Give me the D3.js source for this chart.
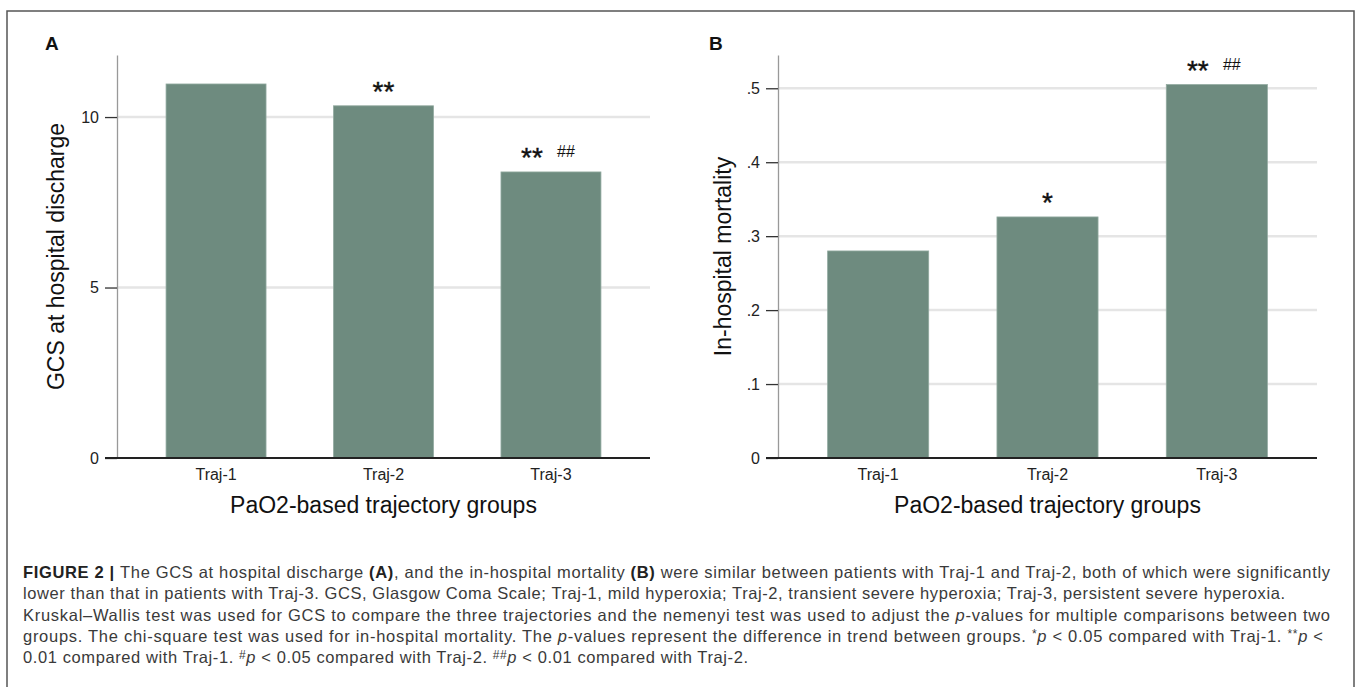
<!DOCTYPE html>
<html>
<head>
<meta charset="utf-8">
<script src="https://cdn.jsdelivr.net/npm/d3@7"></script>
<style>
  body { margin: 0; background: #fff; }
  text { font-family: "Liberation Sans", Arial, Helvetica, sans-serif; }
</style>
</head>
<body>
<div id="chart"></div>
<script>
// data
var groups = ["Traj-1", "Traj-2", "Traj-3"];
var gcsValues = [10.97, 10.33, 8.39];
var mortalityValues = [0.28, 0.326, 0.505];
var gcsTicks = [0, 5, 10];
var mortalityTicks = [0, 0.1, 0.2, 0.3, 0.4, 0.5];
var gcsStars = ["", "**", "**"];
var gcsHashes = ["", "", "##"];
var mortalityStars = ["", "*", "**"];
var mortalityHashes = ["", "", "##"];

var w = 1358;
var h = 687;
var barColor = "#6e8b7f";

var svg = d3.select("#chart")
            .append("svg")
            .attr("width", w)
            .attr("height", h);

// outer frame (open at the bottom)
svg.append("path")
    .attr("d", "M7," + h + "V11H1354V" + h)
    .attr("fill", "none")
    .attr("stroke", "#555")
    .attr("stroke-width", 1.5);

function drawPanel(p) {
    var g = svg.append("g");

    var xScale = d3.scaleBand()
                    .domain(groups)
                    .range([p.left, p.right])
                    .paddingInner(0.403)
                    .paddingOuter(0.293);

    var yScale = d3.scaleLinear()
                    .domain([0, p.yMax])
                    .range([458, 55]);

    // gridlines
    g.selectAll("line.grid")
        .data(p.ticks.filter(function(d) { return d > 0; }))
        .enter()
        .append("line")
        .attr("class", "grid")
        .attr("x1", p.left)
        .attr("x2", p.right)
        .attr("y1", function(d) { return yScale(d); })
        .attr("y2", function(d) { return yScale(d); })
        .attr("stroke", "#e5e5e5")
        .attr("stroke-width", 2.5);

    // bars
    g.selectAll("rect")
        .data(p.values)
        .enter()
        .append("rect")
        .attr("x", function(d, i) { return xScale(groups[i]); })
        .attr("y", function(d) { return yScale(d); })
        .attr("width", xScale.bandwidth())
        .attr("height", function(d) { return yScale(0) - yScale(d); })
        .attr("fill", barColor)
        .attr("stroke", "#92aaa0")
        .attr("stroke-width", 0.8);

    // y axis
    var yAxis = g.append("g")
        .attr("transform", "translate(" + p.left + ",0)")
        .call(d3.axisLeft(yScale)
                .tickValues(p.ticks)
                .tickSize(12)
                .tickSizeOuter(0)
                .tickPadding(6)
                .tickFormat(p.format));
    yAxis.select(".domain").attr("stroke", "#999").attr("stroke-width", 1.3);
    yAxis.selectAll(".tick line").attr("stroke", "#333").attr("stroke-width", 1.3);
    yAxis.selectAll(".tick text")
        .attr("font-size", "16px")
        .attr("font-family", "'Liberation Sans', Arial, sans-serif")
        .attr("fill", "#222");

    // baseline
    g.append("line")
        .attr("x1", p.left - 12)
        .attr("x2", p.right)
        .attr("y1", yScale(0))
        .attr("y2", yScale(0))
        .attr("stroke", "#222")
        .attr("stroke-width", 2);

    // x axis labels
    var xAxis = g.append("g")
        .attr("transform", "translate(0," + yScale(0) + ")")
        .call(d3.axisBottom(xScale).tickSize(0).tickPadding(11));
    xAxis.select(".domain").remove();
    xAxis.selectAll(".tick text")
        .attr("font-size", "16px")
        .attr("font-family", "'Liberation Sans', Arial, sans-serif")
        .attr("fill", "#222");

    // significance marks
    g.selectAll("text.star")
        .data(p.stars)
        .enter()
        .append("text")
        .attr("class", "star")
        .text(function(d) { return d; })
        .attr("x", function(d, i) {
            var c = xScale(groups[i]) + xScale.bandwidth() / 2;
            return p.hashes[i] ? c - 19 : c;
        })
        .attr("y", function(d, i) { return yScale(p.values[i]) - 5; })
        .attr("text-anchor", "middle")
        .attr("font-size", "28px")
        .attr("stroke", "#111")
        .attr("stroke-width", 0.4)
        .attr("fill", "#111");

    g.selectAll("text.hash")
        .data(p.hashes)
        .enter()
        .append("text")
        .attr("class", "hash")
        .text(function(d) { return d; })
        .attr("x", function(d, i) { return xScale(groups[i]) + xScale.bandwidth() / 2 + 15; })
        .attr("y", function(d, i) { return yScale(p.values[i]) - 15; })
        .attr("text-anchor", "middle")
        .attr("font-size", "16px")
        .attr("fill", "#111");

    // panel letter
    g.append("text")
        .text(p.letter)
        .attr("x", p.letterX)
        .attr("y", 50)
        .attr("font-size", "19px")
        .attr("font-weight", "bold")
        .attr("fill", "#111");

    // axis titles
    g.append("text")
        .text(p.yTitle)
        .attr("transform", "translate(" + p.yTitleX + "," + ((yScale(0) + yScale(p.yMax)) / 2) + ") rotate(-90)")
        .attr("text-anchor", "middle")
        .attr("font-size", "23px")
        .attr("fill", "#111");

    g.append("text")
        .text("PaO2-based trajectory groups")
        .attr("x", xScale(groups[1]) + xScale.bandwidth() / 2)
        .attr("y", 513)
        .attr("text-anchor", "middle")
        .attr("font-size", "23px")
        .attr("fill", "#111");
}

drawPanel({
    left: 117, right: 650, yMax: 11.82,
    values: gcsValues, ticks: gcsTicks,
    stars: gcsStars, hashes: gcsHashes,
    format: d3.format("d"),
    letter: "A", letterX: 45,
    yTitle: "GCS at hospital discharge", yTitleX: 64
});

drawPanel({
    left: 778, right: 1317, yMax: 0.545,
    values: mortalityValues, ticks: mortalityTicks,
    stars: mortalityStars, hashes: mortalityHashes,
    format: function(d) { return d === 0 ? "0" : d3.format(".1f")(d).replace(/^0/, ""); },
    letter: "B", letterX: 709,
    yTitle: "In-hospital mortality", yTitleX: 731
});

// caption
var captionLines = [
    [["FIGURE 2 | ", "b"], ["The GCS at hospital discharge ", ""], ["(A)", "b"], [", and the in-hospital mortality ", ""], ["(B)", "b"], [" were similar between patients with Traj-1 and Traj-2, both of which were significantly", ""]],
    [["lower than that in patients with Traj-3. GCS, Glasgow Coma Scale; Traj-1, mild hyperoxia; Traj-2, transient severe hyperoxia; Traj-3, persistent severe hyperoxia.", ""]],
    [["Kruskal\u2013Wallis test was used for GCS to compare the three trajectories and the nemenyi test was used to adjust the ", ""], ["p", "i"], ["-values for multiple comparisons between two", ""]],
    [["groups. The chi-square test was used for in-hospital mortality. The ", ""], ["p", "i"], ["-values represent the difference in trend between groups. ", ""], ["*", "sup"], ["p", "i"], [" < 0.05 compared with Traj-1. ", ""], ["**", "sup"], ["p", "i"], [" <", ""]],
    [["0.01 compared with Traj-1. ", ""], ["#", "sup"], ["p", "i"], [" < 0.05 compared with Traj-2. ", ""], ["##", "sup"], ["p", "i"], [" < 0.01 compared with Traj-2.", ""]]
];
var captionEnds = [1330, 1285, 1330, 1323, 748];

captionLines.forEach(function(line, li) {
    var t = svg.append("text")
        .attr("x", 23)
        .attr("y", 578 + li * 21.3)
        .attr("font-size", "16.5px")
        .attr("fill", "#3a3a3a");
    line.forEach(function(seg) {
        var s = t.append("tspan").text(seg[0]);
        if (seg[1] === "b") s.attr("font-weight", "bold").attr("fill", "#222");
        if (seg[1] === "i") s.attr("font-style", "italic");
        if (seg[1] === "sup") s.attr("font-size", "12px").attr("baseline-shift", "4");
    });
    t.attr("textLength", captionEnds[li] - 23).attr("lengthAdjust", "spacing");
});
</script>
</body>
</html>
